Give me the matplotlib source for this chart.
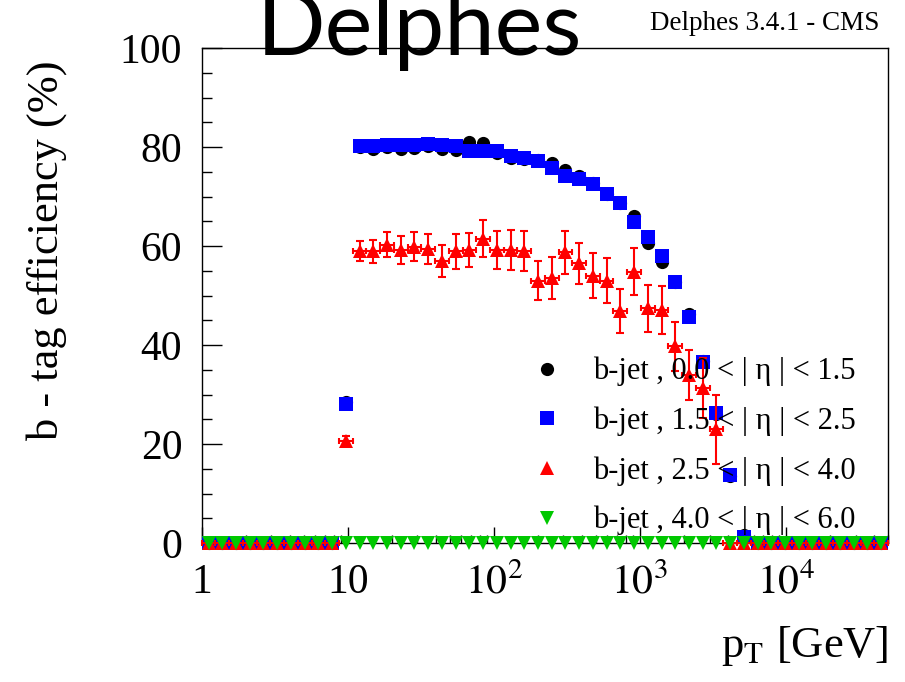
import numpy as np
import matplotlib
matplotlib.use("Agg")
import matplotlib.pyplot as plt
from matplotlib.ticker import FixedLocator, FixedFormatter, MultipleLocator

plt.rcParams['font.family'] = ['Liberation Serif', 'DejaVu Serif']
plt.rcParams['mathtext.fontset'] = 'stix'

# 50 log bins from 1 GeV to 50 TeV
pt_lo, pt_hi, n_bins = 1.0, 5e4, 50

# b-tag efficiency (%) per bin
eff_eta0 = [0]*10 + [28.5, 80.0, 79.5, 80.0, 79.6, 79.7, 80.2, 79.6, 79.4, 81.0,
                     80.8, 78.8, 77.7, 77.6, 77.4, 76.8, 75.4, 74.2, 72.8, 70.6,
                     68.6, 66.0, 60.6, 56.8, 52.7, 46.3, 36.8, 26.0, 13.5, 1.6] + [0]*10
eff_eta1 = [0]*10 + [28.0, 80.3, 80.3, 80.4, 80.5, 80.4, 80.6, 80.4, 80.3, 79.2,
                     79.2, 79.1, 78.2, 77.7, 77.1, 75.7, 74.2, 73.6, 72.5, 70.6,
                     68.6, 64.9, 61.9, 58.0, 52.7, 45.7, 36.6, 26.2, 13.7, 1.3] + [0]*10
eff_eta2 = [0]*10 + [20.7, 59.0, 58.9, 60.3, 59.2, 59.9, 59.4, 57.0, 58.9, 59.2,
                     61.5, 59.2, 59.2, 59.0, 53.0, 53.5, 58.7, 56.5, 54.0, 53.0,
                     46.9, 54.8, 47.4, 47.1, 39.7, 33.9, 31.3, 23.0] + [0]*12
err_eta2 = [0]*10 + [1.0, 2.1, 2.4, 2.5, 2.9, 3.0, 3.1, 3.2, 3.5, 3.5,
                     3.8, 3.8, 4.0, 4.0, 3.9, 4.2, 4.3, 4.2, 4.5, 4.5,
                     4.5, 4.7, 4.7, 4.8, 4.9, 5.0, 6.0, 7.0] + [0]*12
eff_eta3 = [0]*50

labels = ['b-jet , 0.0 < | η | < 1.5',
          'b-jet , 1.5 < | η | < 2.5',
          'b-jet , 2.5 < | η | < 4.0',
          'b-jet , 4.0 < | η | < 6.0']

x_ticks = [1, 10, 100, 1000, 10000]
x_ticklabels = ['1', '10', '$10^{2}$', '$10^{3}$', '$10^{4}$']

edges = np.logspace(np.log10(pt_lo), np.log10(pt_hi), n_bins + 1)
pt = np.sqrt(edges[:-1] * edges[1:])
xerr = [pt - edges[:-1], edges[1:] - pt]

fig = plt.figure(figsize=(9.05, 6.82), dpi=100)
ax = fig.add_axes([0.2229, 0.2038, 0.7583, 0.7258])

ax.plot(pt, eff_eta0, 'o', color='black', ms=9.5, mew=0, clip_on=False, zorder=3,
        label=labels[0])
ax.plot(pt, eff_eta1, 's', color='#0000ff', ms=10, mew=0, clip_on=False, zorder=4,
        label=labels[1])
ax.errorbar(pt, eff_eta2, yerr=err_eta2, fmt='none', ecolor='#ff0000', elinewidth=1.5,
            capsize=3, capthick=1.5, clip_on=False, zorder=5)
ax.errorbar(pt, eff_eta2, xerr=xerr, fmt='none', ecolor='#ff0000', elinewidth=1.5,
            capsize=2, capthick=1.5, clip_on=False, zorder=5)
ax.plot(pt, eff_eta2, '^', color='#ff0000', ms=10, mew=0, clip_on=False, zorder=5,
        label=labels[2])
ax.plot(pt, eff_eta3, 'v', color='#00c800', ms=10, mew=0, clip_on=False, zorder=6,
        label=labels[3])

ax.set_xscale('log')
ax.set_xlim(pt_lo, pt_hi)
ax.set_ylim(0, 100)

ax.xaxis.set_major_locator(FixedLocator(x_ticks))
ax.xaxis.set_major_formatter(FixedFormatter(x_ticklabels))
ax.yaxis.set_major_locator(MultipleLocator(20))
ax.yaxis.set_minor_locator(MultipleLocator(5))

ax.tick_params(axis='both', which='both', direction='in', top=False, right=False,
               width=1.0, labelsize=30)
ax.tick_params(axis='y', which='major', length=14.5, pad=14)
ax.tick_params(axis='y', which='minor', length=7.2)
ax.tick_params(axis='x', which='major', length=11.5, pad=15)
ax.tick_params(axis='x', which='minor', length=6)
for s in ax.spines.values():
    s.set_linewidth(1.0)

ax.set_ylabel('b - tag efficiency (%)', fontsize=32, loc='top')
ax.yaxis.set_label_coords(-0.197, 0.976)
ax.set_xlabel(r'p$_{\mathrm{T}}$ [GeV]', fontsize=32, loc='right')
ax.xaxis.set_label_coords(1.0, -0.163)

leg = ax.legend(loc='center left', bbox_to_anchor=(531.7 / 905, 1 - 446 / 682),
                bbox_transform=fig.transFigure, frameon=False, fontsize=22,
                handlelength=1.0, handletextpad=1.0, labelspacing=0.66,
                borderpad=0, borderaxespad=0, numpoints=1)
leg.set_zorder(10)

fig.text(0.464, 0.919, 'Delphes', family=['Lato', 'DejaVu Sans'], fontsize=65,
         ha='center', va='baseline')
fig.text(0.972, 0.956, 'Delphes 3.4.1 - CMS', fontsize=19.5, ha='right', va='baseline')

fig.savefig('out.png', dpi=100)
